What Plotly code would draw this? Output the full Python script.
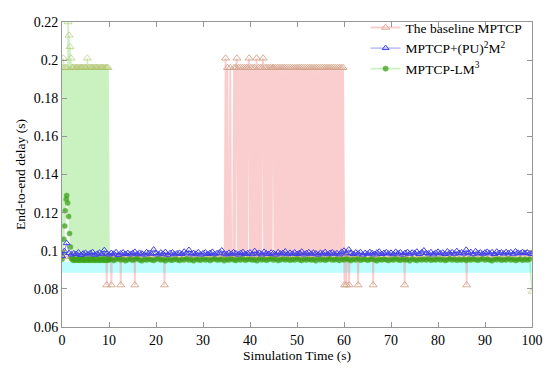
import plotly.graph_objects as go

# ---------------- data ----------------
L = 0.0970   # baseline resting delay
H = 0.1960   # baseline / LM3 burst level
T = 0.2010   # occasional top outliers
D = 0.0820   # baseline drop-outs

# The baseline MPTCP
base_pre_t = [0, 1, 2, 3, 4, 5, 6, 7, 8, 9, 9.4, 9.5, 9.6, 10.4, 10.5, 10.6, 11, 12, 12.4, 12.5, 12.6,
              13, 14, 15, 15.4, 15.5, 15.6, 16, 17, 18, 19, 20, 21, 21.7, 21.8, 21.9, 23, 24, 25,
              26, 27, 28, 29, 30, 31, 32, 33, 34]
base_pre_y = [L, L, L, L, L, L, L, L, L, L, L, D, L, L, D, L, L, L, L, D, L,
              L, L, L, L, D, L, L, L, L, L, L, L, L, D, L, L, L, L,
              L, L, L, L, L, L, L, L, L]
base_burst_start = 34.4
base_burst_step = 0.2
base_burst_y = [L, L, T, L, H, L, L, H, L, L, L, H, L, H, T, L, H, L, H, L,
                H, L, H, L, H, L, H, T, L, H, L, H, L, H, L, T, L, H, L, H,
                L, H, T, L, H, L, H, L, H, L, H, L, H, H, L, H, L, H, L, H,
                L, H, L, H, L, H, L, H, L, H, L, H, L, H, L, H, L, H, L, H,
                L, H, L, H, L, H, L, H, L, H, L, H, L, H, L, H, L, H, L, H,
                L, H, L, H, L, H, L, H, L, H, L, H, L, H, L, H, L, H, L, H,
                L, H, L, H, L, H, L, H, L]
base_post_t = [60.1, 60.2, 60.4, 60.5, 60.6, 61.0, 61.1, 61.2, 62, 62.9, 63.0, 63.1, 64, 65, 66.1,
               66.2, 66.3, 67, 68, 69, 70, 71, 72, 72.8, 72.9, 73.0, 74, 75, 76, 77, 78, 79, 80,
               81, 82, 83, 84, 85, 86.0, 86.1, 86.2, 87, 88, 89, 90, 91, 92, 93, 94, 95, 96, 97,
               98, 99, 100]
base_post_y = [D, L, L, D, L, L, D, L, L, L, D, L, L, L, L,
               D, L, L, L, L, L, L, L, L, D, L, L, L, L, L, L, L, L,
               L, L, L, L, L, L, D, L, L, L, L, L, L, L, L, L, L, L, L,
               L, L, L]

# MPTCP+(PU)^2M^2 (sampled every 0.5 s)
blue_step = 0.5
blue_y = [
    .0973, .0998, .1040, .0988, .0980, .0986, .0983, .0991, .0978, .0985,
    .0989, .0981, .0987, .0993, .0979, .0984, .0990, .0982, .1003, .0986,
    .0980, .0988, .0984, .0992, .0978, .0986, .0991, .0983, .0988, .0981,
    .0987, .0994, .0982, .0989, .0985, .0980, .0992, .0987, .0984, .1006,
    .0988, .0981, .0990, .0984, .0993, .0979, .0987, .0991, .0982, .0986,
    .0989, .0983, .0995, .0987, .1004, .0981, .0988, .0984, .0992, .0980,
    .0986, .0991, .0983, .0988, .0994, .0982, .0987, .0990, .1001, .0985,
    .0981, .0989, .0984, .0992, .0986, .0980, .0988, .0993, .0983, .0987,
    .0991, .0982, .0998, .0985, .0989, .0981, .0994, .0986, .0983, .0990,
    .0987, .0980, .0992, .0985, .0988, .0996, .0982, .0989, .0984, .0991,
    .0983, .0988, .0995, .0981, .0987, .0992, .0984, .0990, .0986, .0980,
    .0989, .0985, .0993, .0982, .0988, .0991, .0984, .0987, .0981, .0994,
    .1000, .0986, .1006, .0989, .0983, .0991, .0985, .0992, .0980, .0988,
    .0984, .0993, .0987, .0981, .0990, .0995, .0983, .0988, .0992, .0985,
    .0989, .0982, .0994, .0986, .0991, .0980, .0988, .0993, .0984, .0990,
    .0987, .0995, .0983, .0991, .1001, .0988, .0985, .0992, .0981, .0989,
    .0994, .0986, .0990, .0983, .0996, .0987, .0992, .0984, .0998, .0988,
    .0991, .0985, .1005, .0989, .0993, .0982, .0997, .0987, .0991, .0984,
    .0990, .0994, .0986, .0992, .0983, .0995, .0988, .0991, .0985, .0993,
    .0987, .0992, .0984, .0996, .0989, .0986, .0993, .0988, .0991, .0985,
    .0983]

# MPTCP-LM^3: first 10 s sampled every 0.1 s, then every 0.5 s
green_early_step = 0.1
green_early_y = [
    .0955, .1960, .0990, .2010, .1060, .1960, .1130, .1210, .1960, .1270,
    .1290, .1960, .1250, .2200, .1180, .2130, .1090, .2070, .1020, .2010,
    .0960, .1960, .0955, .1960, .0950, .1960, .0955, .0950, .1960, .0955,
    .1960, .0950, .1960, .0955, .1960, .0950, .0955, .1960, .0950, .1960,
    .0955, .1960, .0950, .1960, .0955, .1960, .0950, .0955, .1960, .0950,
    .1960, .0955, .1960, .0950, .2010, .0955, .1960, .0950, .1960, .0955,
    .0950, .1960, .0955, .1960, .0950, .1960, .0955, .1960, .0950, .0955,
    .1960, .0950, .1960, .0955, .1960, .0950, .1960, .0955, .1960, .0950,
    .0955, .1960, .0950, .1960, .0955, .1960, .0950, .1960, .0955, .1960,
    .0950, .0955, .1960, .0950, .1960, .0955, .1960, .0950, .1960, .0955]
green_late_start = 10.0
green_late_step = 0.5
green_late_y = [
    .0952, .0956, .0949, .0954, .0958, .0951, .0955, .0948, .0953, .0957,
    .0950, .0954, .0959, .0952, .0947, .0955, .0951, .0956, .0953, .0949,
    .0955, .0958, .0951, .0954, .0948, .0956, .0952, .0950, .0957, .0953,
    .0949, .0955, .0952, .0958, .0951, .0954, .0947, .0956, .0953, .0950,
    .0957, .0952, .0955, .0949, .0954, .0958, .0951, .0953, .0956, .0948,
    .0954, .0951, .0957, .0953, .0949, .0955, .0952, .0958, .0950, .0954,
    .0956, .0951, .0953, .0948, .0957, .0952, .0955, .0950, .0954, .0958,
    .0951, .0955, .0949, .0953, .0957, .0952, .0956, .0950, .0954, .0951,
    .0958, .0953, .0949, .0955, .0951, .0956, .0952, .0954, .0948, .0957,
    .0952, .0955, .0950, .0954, .0958, .0951, .0953, .0956, .0949, .0955,
    .0951, .0957, .0953, .0949, .0955, .0952, .0958, .0950, .0954, .0956,
    .0950, .0954, .0957, .0952, .0948, .0955, .0951, .0956, .0953, .0949,
    .0955, .0951, .0958, .0953, .0950, .0956, .0952, .0954, .0948, .0957,
    .0953, .0949, .0955, .0951, .0956, .0952, .0958, .0950, .0954, .0951,
    .0957, .0952, .0955, .0949, .0953, .0958, .0951, .0956, .0950, .0954,
    .0952, .0956, .0949, .0955, .0951, .0957, .0953, .0950, .0954, .0958,
    .0951, .0955, .0952, .0948, .0956, .0953, .0957, .0950, .0954, .0952,
    .0958, .0951, .0955, .0949, .0953, .0956, .0950, .0954, .0952, .0955,
    .0787]

# light cyan band under the traces
band_t = [0, 100]
band_lo = [0.0884, 0.0884]
band_hi = [0.0942, 0.0942]

x_ticks = [0, 10, 20, 30, 40, 50, 60, 70, 80, 90, 100]
y_ticks = [0.06, 0.08, 0.10, 0.12, 0.14, 0.16, 0.18, 0.20, 0.22]
y_tick_text = ["0.06", "0.08", "0.1", "0.12", "0.14", "0.16", "0.18", "0.2", "0.22"]

# ---------------- build ----------------
base_burst_t = [round(base_burst_start + base_burst_step * i, 2) for i in range(len(base_burst_y))]
base_t = base_pre_t + base_burst_t + base_post_t
base_y = base_pre_y + base_burst_y + base_post_y

blue_t = [round(blue_step * i, 2) for i in range(len(blue_y))]

green_t = ([round(green_early_step * i, 2) for i in range(len(green_early_y))]
           + [round(green_late_start + green_late_step * i, 2) for i in range(len(green_late_y))])
green_y = green_early_y + green_late_y
green_sym = ["triangle-up-open" if (v >= 0.195 or v < 0.085) else "circle" for v in green_y]
green_size = [7 if s != "circle" else 5.5 for s in green_sym]
green_col = ["rgb(175,195,110)" if s != "circle" else "rgb(55,150,20)" for s in green_sym]

FONT = "Times New Roman, Liberation Serif, DejaVu Serif, serif"

fig = go.Figure()

fig.add_trace(go.Scatter(x=band_t, y=band_lo, mode="lines", line=dict(width=0),
                         showlegend=False, hoverinfo="skip"))
fig.add_trace(go.Scatter(x=band_t, y=band_hi, mode="lines", line=dict(width=0),
                         fill="tonexty", fillcolor="rgb(190,253,253)",
                         showlegend=False, hoverinfo="skip"))

fig.add_trace(go.Scatter(
    x=base_t, y=base_y, mode="lines+markers", name="The baseline MPTCP", legendrank=1,
    line=dict(color="rgba(240,110,110,0.34)", width=1.8),
    marker=dict(symbol="triangle-up-open", size=7, color="rgb(212,165,140)", line=dict(width=0.9)),
))
fig.add_trace(go.Scatter(
    x=green_t, y=green_y, mode="lines+markers", name="MPTCP-LM<sup>3</sup>", legendrank=3,
    line=dict(color="rgba(90,215,60,0.32)", width=1.6),
    marker=dict(symbol=green_sym, size=green_size, color=green_col, line=dict(width=0.9)),
))
fig.add_trace(go.Scatter(
    x=blue_t, y=blue_y, mode="lines+markers", name="MPTCP+(PU)<sup>2</sup>M<sup>2</sup>", legendrank=2,
    line=dict(color="rgba(80,80,240,0.75)", width=0.8),
    marker=dict(symbol="triangle-up-open", size=6, color="rgb(65,65,230)", line=dict(width=1)),
))

axis_common = dict(showline=True, linecolor="rgb(150,150,150)", linewidth=1, mirror="ticks",
                   ticks="inside", ticklen=5, tickcolor="rgb(150,150,150)", showgrid=False,
                   zeroline=False, automargin=False,
                   tickfont=dict(family=FONT, size=14, color="black"))

fig.update_layout(
    width=550, height=370,
    margin=dict(l=62, r=18, t=17, b=43),
    paper_bgcolor="white", plot_bgcolor="white",
    font=dict(family=FONT, size=13.5, color="black"),
    xaxis=dict(range=[0, 100], tickvals=x_ticks, **axis_common,
               title=dict(text="Simulation Time (s)", font=dict(family=FONT, size=13.5), standoff=2)),
    yaxis=dict(range=[0.06, 0.22], tickvals=y_ticks, ticktext=y_tick_text, **axis_common,
               title=dict(text="End-to-end delay (s)", font=dict(family=FONT, size=13.5), standoff=4)),
    legend=dict(x=0.646, y=1.032, xanchor="left", yanchor="top", bgcolor="rgba(255,255,255,0)",
                font=dict(family=FONT, size=13.5), tracegroupgap=0, itemsizing="trace",
                traceorder="normal"),
    showlegend=True,
)

fig.write_html("out.html", config={"displayModeBar": False},
               post_script="document.body.style.margin='0px';document.body.style.overflow='hidden';")
